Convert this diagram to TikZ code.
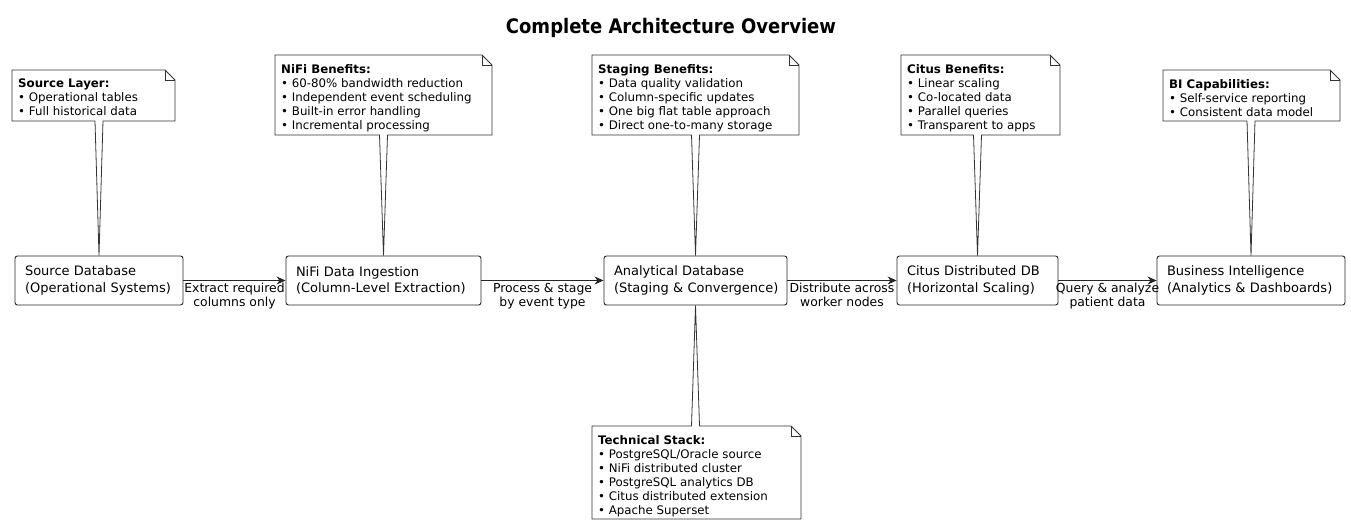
\documentclass[tikz,border=0pt]{standalone}
\usepackage{fontspec}
\setmainfont{DejaVu Sans}
\newfontfamily\condf{DejaVu Sans Condensed}
\usetikzlibrary{arrows.meta,calc}
\begin{document}
\begin{tikzpicture}[x=1pt,y=-1pt,
  box/.style={draw=black!85,line width=0.9pt,rounded corners=2.5pt,fill=white,
    text width=#1,inner xsep=10pt,inner ysep=0pt,minimum height=49pt,align=left,
    font=\fontsize{13}{16.5}\selectfont},
  arr/.style={draw=black!85,line width=0.9pt,-{Stealth[length=9pt,width=8pt]}},
  elab/.style={below=2pt,align=center,inner sep=0pt,font=\fontsize{12.4}{14}\selectfont},
  notebox/.style={draw=black!80,line width=0.8pt,fill=white,line join=miter},
  notetext/.style={anchor=north west,inner sep=0pt,align=left,font=\fontsize{11.8}{14}\selectfont},
  ttl/.style={font=\condf\bfseries\fontsize{20}{24}\selectfont}
]
\useasboundingbox (0,0) rectangle (1351,526);

\node[ttl] (title) at (671,28) {Complete Architecture Overview};

% main boxes
\node[box=148pt] (src)  at (99,280.5)   {\mbox{Source Database}\\\mbox{(Operational Systems)}};
\node[box=175pt] (nifi) at (383.5,280.5) {\mbox{NiFi Data Ingestion}\\\mbox{(Column-Level Extraction)}};
\node[box=163pt] (ana)  at (695.5,280.5) {\mbox{Analytical Database}\\\mbox{(Staging \& Convergence)}};
\node[box=141pt] (cit)  at (977.5,280.5) {\mbox{Citus Distributed DB}\\\mbox{(Horizontal Scaling)}};
\node[box=168pt] (bi)   at (1251,280.5)  {\mbox{Business Intelligence}\\\mbox{(Analytics \& Dashboards)}};

% connectors
\draw[arr] (src.east) -- node[elab] (l1) {Extract required\\columns only} (nifi.west);
\draw[arr] (nifi.east) -- node[elab] (l2) {Process \& stage\\by event type} (ana.west);
\draw[arr] (ana.east) -- node[elab] (l3) {Distribute across\\worker nodes} (cit.west);
\draw[arr] (cit.east) -- node[elab] (l4) {Query \& analyze\\patient data} (bi.west);

% notes above
\newcommand\topnote[6]{% L T R B target text
  \path let \p1=(#5.north) in
    [notebox] (#1,#2) -- (#3-10,#2) -- (#3,#2+10) -- (#3,#4) -- (\x1+4,#4) -- (#5.north) -- (\x1-4,#4) -- (#1,#4) -- cycle;
  \draw[notebox,fill=none] (#3-10,#2) -- (#3-10,#2+10) -- (#3,#2+10);
  \node[notetext] at (#1+6,#2+9) {#6};
}
\topnote{12}{70}{175}{121}{src}{\textbf{Source Layer:}\\• Operational tables\\• Full historical data}
\topnote{275}{55}{492}{135}{nifi}{\textbf{NiFi Benefits:}\\• 60-80\% bandwidth reduction\\• Independent event scheduling\\• Built-in error handling\\• Incremental processing}
\topnote{592}{55}{799}{135}{ana}{\textbf{Staging Benefits:}\\• Data quality validation\\• Column-specific updates\\• One big flat table approach\\• Direct one-to-many storage}
\topnote{901}{55}{1060}{135}{cit}{\textbf{Citus Benefits:}\\• Linear scaling\\• Co-located data\\• Parallel queries\\• Transparent to apps}
\topnote{1163}{70}{1340}{121}{bi}{\textbf{BI Capabilities:}\\• Self-service reporting\\• Consistent data model}

% note below
\path let \p1=(ana.south) in
  [notebox] (592,426) -- (\x1-4,426) -- (ana.south) -- (\x1+4,426) -- (791,426) -- (801,436) -- (801,519) -- (592,519) -- cycle;
\draw[notebox,fill=none] (791,426) -- (791,436) -- (801,436);
\node[notetext] (tech) at (598,435) {\textbf{Technical Stack:}\\• PostgreSQL/Oracle source\\• NiFi distributed cluster\\• PostgreSQL analytics DB\\• Citus distributed extension\\• Apache Superset};
\end{tikzpicture}
\end{document}
